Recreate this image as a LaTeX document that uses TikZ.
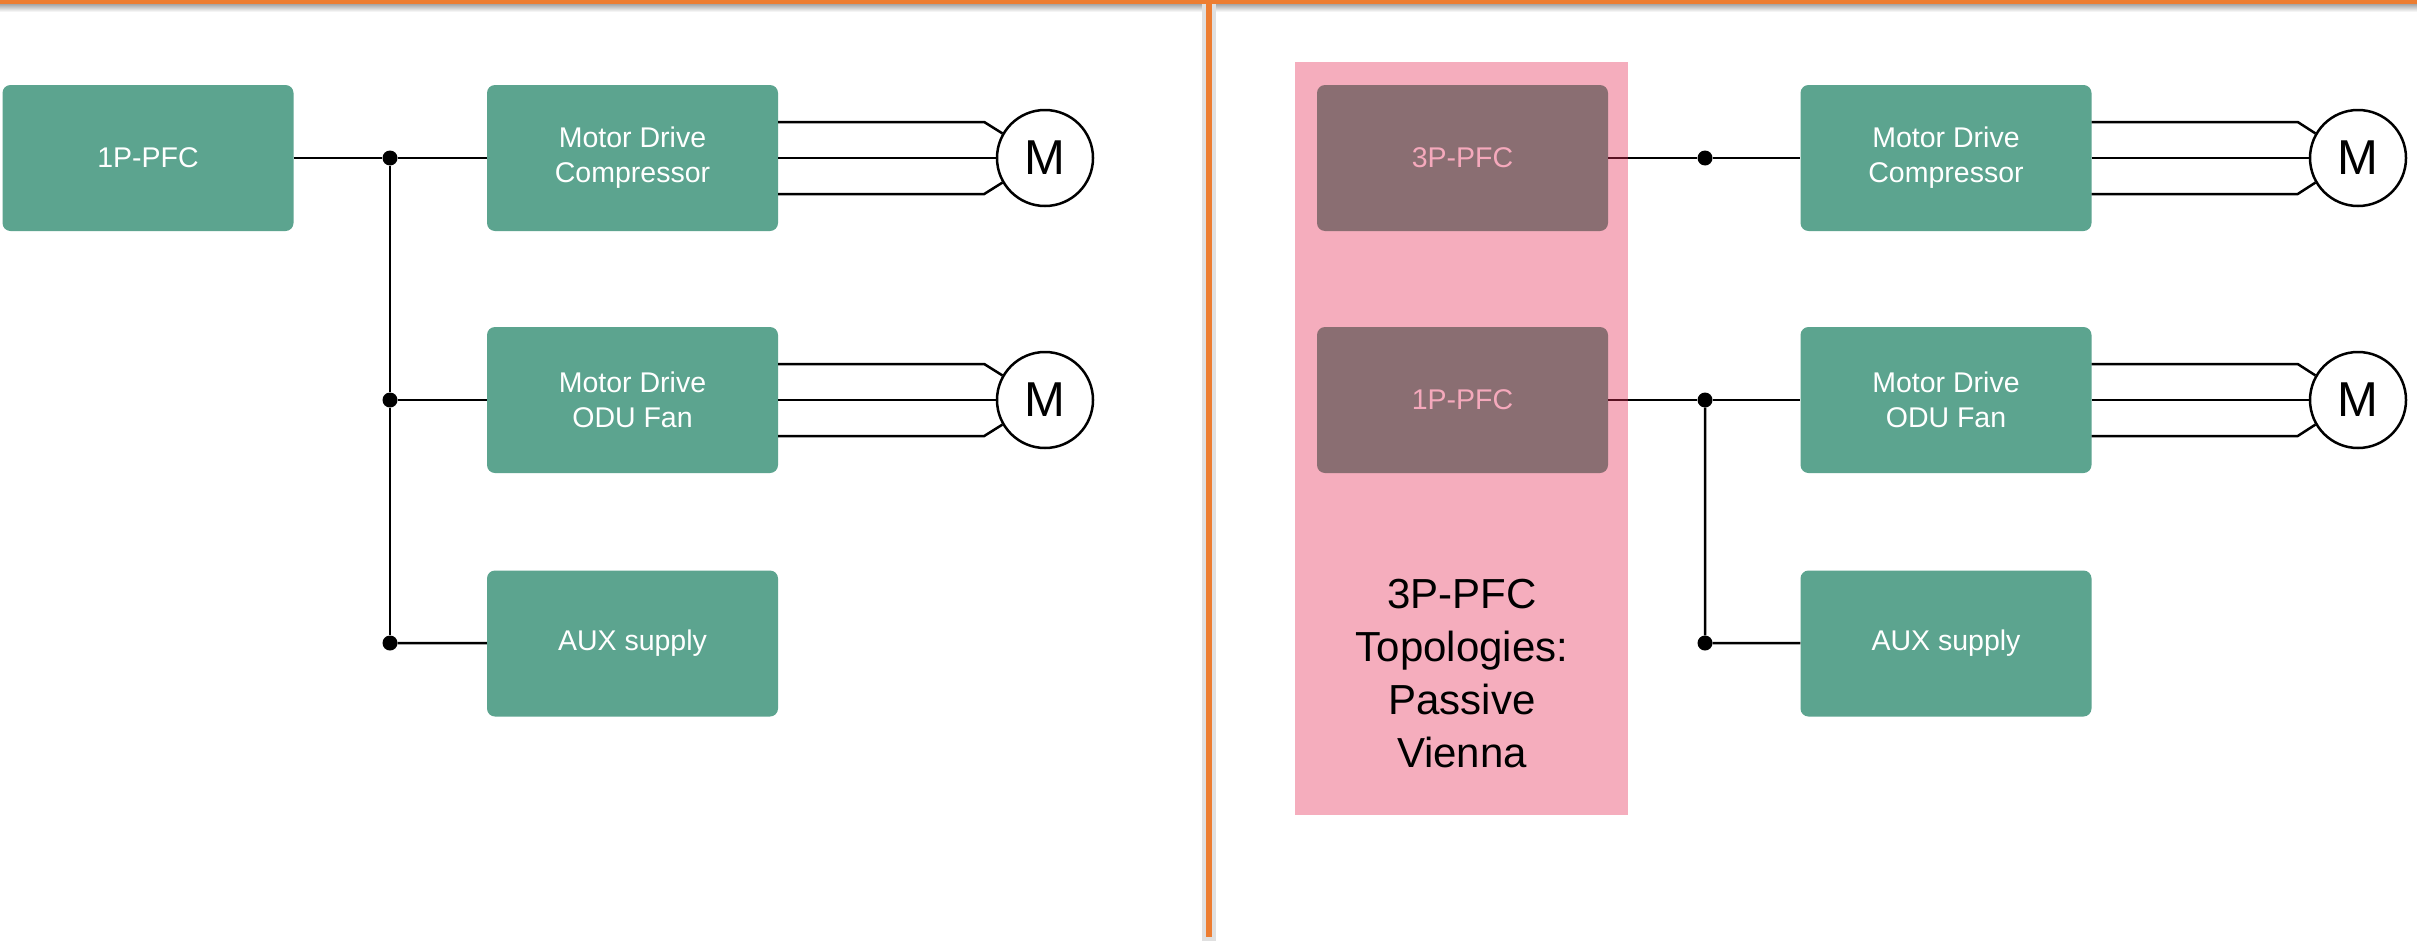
\documentclass[tikz,border=0pt]{standalone}
\usepackage{fontspec}
\setmainfont{Liberation Sans}
\usepackage{xcolor}
\usepackage{tikz}

\definecolor{boxgreen}{HTML}{5CA48F}
\definecolor{panelpink}{HTML}{F5ADBD}
\definecolor{boxmauve}{HTML}{8A6E72}
\definecolor{textpink}{HTML}{F5A9BC}
\definecolor{divorange}{HTML}{ED7D31}
\definecolor{wirered}{HTML}{5A1222}

\begin{document}
\begin{tikzpicture}[x=1pt,y=-1pt,
  blk/.style={rectangle,rounded corners=8pt,fill=boxgreen,text=white,minimum width=291pt,minimum height=146pt,align=center,inner sep=0pt,font=\fontsize{28.5}{35}\selectfont},
  pfcblk/.style={blk,fill=boxmauve,text=textpink},
  motor/.style={circle,draw,line width=2.5pt,fill=white,minimum size=96pt,inner sep=0pt,font=\fontsize{49}{49}\selectfont},
  wire/.style={line width=2.5pt},
  jdot/.style={circle,fill=black,inner sep=0pt,minimum size=15pt}]
  \useasboundingbox (0,0) rectangle (2417,945);
  \fill[white] (0,0) rectangle (2417,945);
  \shade[top color=black!35,bottom color=white] (0,4) rectangle (2417,12);
  \fill[divorange] (0,0) rectangle (2417,4);
  \draw[black!12,line width=14pt] (1209,4) -- (1209,941);
  \draw[divorange,line width=6pt] (1209,0) -- (1209,937);

  \node[blk] (pfcL) at (148,158) {1P-PFC};
  \node[blk] (cmpL) at (632.5,158) {Motor Drive\\Compressor};
  \node[blk] (fanL) at (632.5,400) {Motor Drive\\ODU Fan};
  \node[blk] (auxL) at (632.5,643.5) {AUX supply};
  \node[motor] (mL1) at (1045,158) {M};
  \node[motor] (mL2) at (1045,400) {M};
  \node[jdot] (jL1) at (390,158) {};
  \node[jdot] (jL2) at (390,400) {};
  \node[jdot] (jL3) at (390,643) {};

  \node[fill=panelpink,minimum width=333pt,minimum height=753pt,inner sep=0pt] (panel) at (1461.5,438.5) {};
  \node[pfcblk] (pfc3) at (1462.5,158) {3P-PFC};
  \node[pfcblk] (pfc1) at (1462.5,400) {1P-PFC};
  \node[align=center,font=\fontsize{42}{53}\selectfont] (topo) at (1462,674) {3P-PFC\\Topologies:\\Passive\\Vienna};
  \node[blk] (cmpR) at (1946,158) {Motor Drive\\Compressor};
  \node[blk] (fanR) at (1946,400) {Motor Drive\\ODU Fan};
  \node[blk] (auxR) at (1946,643.5) {AUX supply};
  \node[motor] (mR1) at (2358,158) {M};
  \node[motor] (mR2) at (2358,400) {M};
  \node[jdot] (jR1) at (1705,158) {};
  \node[jdot] (jR2) at (1705,400) {};
  \node[jdot] (jR3) at (1705,643) {};

  \draw[wire] (pfcL) -- (jL1) -- (cmpL);
  \draw[wire] (jL1) -- (jL2) -- (jL3);
  \draw[wire] (jL2) -- (fanL);
  \draw[wire] (jL3) -- (auxL);

  \draw[wire] (pfc3) -- (jR1) -- (cmpR);
  \draw[wire] (pfc1) -- (jR2) -- (fanR);
  \draw[wire] (jR2) -- (jR3) -- (auxR);
  \draw[wire,wirered] (pfc3.east) -- (panel.east |- pfc3.east);
  \draw[wire,wirered] (pfc1.east) -- (panel.east |- pfc1.east);

  \foreach \drv/\mot in {cmpL/mL1,fanL/mL2,cmpR/mR1,fanR/mR2}{
    \draw[wire] ([yshift=36pt]\drv.east) -- ++(206,0) -- (\mot.150);
    \draw[wire] (\drv.east) -- (\mot.west);
    \draw[wire] ([yshift=-36pt]\drv.east) -- ++(206,0) -- (\mot.210);
  }
\end{tikzpicture}
\end{document}
